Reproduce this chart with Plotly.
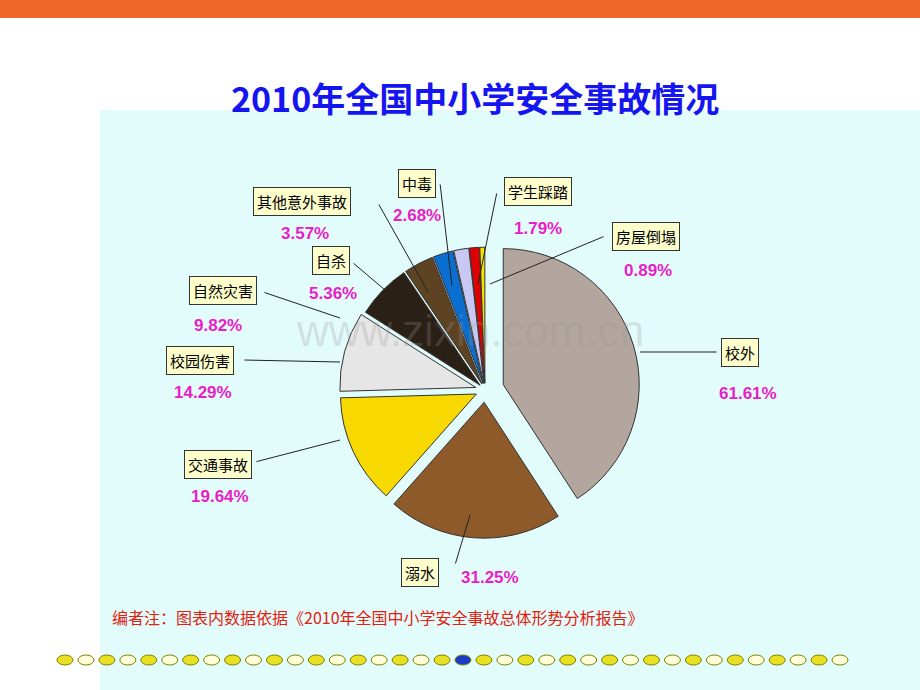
import plotly.graph_objects as go

labels = ["校外", "溺水", "交通事故", "校园伤害", "自然灾害", "自杀", "其他意外事故", "中毒", "学生踩踏", "房屋倒塌"]
values = [61.61, 31.25, 19.64, 14.29, 9.82, 5.36, 3.57, 2.68, 1.79, 0.89]
colors = ["#b3a69e", "#8f5a2a", "#f7d900", "#e6e6e6", "#2b2016", "#5e4322", "#0a6fd0", "#c9c8f2", "#e00000", "#f3e400"]
pulls = [0.14, 0.09, 0.07, 0.07, 0.05, 0.05, 0.05, 0.05, 0.05, 0.05]

W, H = 920, 690
def px(x): return x / W
def py(y): return 1 - y / H

fig = go.Figure(go.Pie(
    labels=labels, values=values, sort=False, direction="clockwise", rotation=0,
    marker=dict(colors=colors, line=dict(color="#333333", width=1)),
    pull=pulls, textinfo="none", hoverinfo="label+value", showlegend=False,
    domain=dict(x=[px(270), px(700)], y=[py(545), py(235)]),
))

label_pos = [(740, 352), (420, 572), (218, 464), (200, 360), (223, 290), (331, 260), (302, 201), (417, 183), (538, 192), (646, 236)]
pct_pos = [(748, 393), (490, 577), (220, 496), (203, 392), (218, 325), (333, 293), (305, 233), (417, 215), (538, 228), (648, 270)]
heads = [(640, 352), (470, 515), (340, 440), (340, 362), (340, 318), (392, 296), (428, 292), (452, 286), (478, 284), (490, 284)]
tails = [(718, 352), (455, 565), (255, 462), (243, 360), (263, 292), (352, 262), (378, 203), (440, 183), (497, 192), (605, 236)]

ann = []
for i, lab in enumerate(labels):
    hx, hy = heads[i]; tx, ty = tails[i]
    ann.append(dict(x=px(hx), y=py(hy), xref="paper", yref="paper", text="", showarrow=True,
                    arrowhead=0, arrowwidth=1, arrowcolor="#222222", axref="pixel", ayref="pixel",
                    ax=tx - hx, ay=ty - hy))
for i, lab in enumerate(labels):
    lx, ly = label_pos[i]
    ann.append(dict(x=px(lx), y=py(ly), xref="paper", yref="paper", xanchor="center", yanchor="middle",
                    text=lab, showarrow=False,
                    font=dict(family="Noto Sans CJK SC", size=15, color="black"),
                    bgcolor="#ffffcc", bordercolor="#333333", borderwidth=1, borderpad=3))
    qx, qy = pct_pos[i]
    ann.append(dict(x=px(qx), y=py(qy), xref="paper", yref="paper", xanchor="center", yanchor="middle",
                    text=f"<b>{values[i]:.2f}%</b>", showarrow=False,
                    font=dict(family="Arial", size=17, color="#e81ec8")))

ann.append(dict(x=px(475), y=py(97), xref="paper", yref="paper", xanchor="center", yanchor="middle",
                text="<b>2010年全国中小学安全事故情况</b>", showarrow=False,
                font=dict(family="Noto Sans CJK SC", size=34, color="#1515f0")))
ann.append(dict(x=px(110), y=py(617), xref="paper", yref="paper", xanchor="left", yanchor="middle",
                text="编者注：图表内数据依据《2010年全国中小学安全事故总体形势分析报告》", showarrow=False,
                font=dict(family="Noto Sans CJK SC", size=16, color="#e02010")))
ann.append(dict(x=px(470), y=py(330), xref="paper", yref="paper", xanchor="center", yanchor="middle",
                text="www.zixin.com.cn", showarrow=False,
                font=dict(family="Arial", size=44, color="rgba(150,150,150,0.25)")))

shapes = [
    dict(type="rect", xref="paper", yref="paper", x0=0, x1=1, y0=py(18), y1=1, fillcolor="#f0672a", line_width=0, layer="below"),
    dict(type="rect", xref="paper", yref="paper", x0=px(100), x1=1, y0=0, y1=py(110), fillcolor="#e2fbfb", line_width=0, layer="below"),
]
n = 38
for k in range(n):
    cx = 65 + k * (840 - 65) / (n - 1)
    fill = "#1a3cc8" if k == 19 else ("#e8e020" if k % 2 == 0 else "#ffffd8")
    shapes.append(dict(type="circle", xref="paper", yref="paper", x0=px(cx - 8), x1=px(cx + 8),
                       y0=py(665), y1=py(655), fillcolor=fill, line=dict(color="#808000", width=1)))

fig.update_layout(width=W, height=H, margin=dict(l=0, r=0, t=0, b=0), paper_bgcolor="white",
                  annotations=ann, shapes=shapes)
fig.write_html("out.html", config={"displayModeBar": False},
               post_script="document.body.style.margin='0';")
